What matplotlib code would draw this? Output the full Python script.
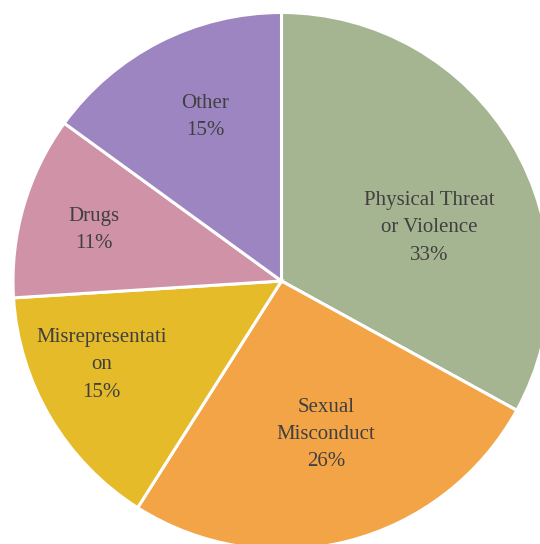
import matplotlib
matplotlib.use("Agg")
import matplotlib.pyplot as plt

categories = ["Physical Threat\nor Violence", "Sexual\nMisconduct", "Misrepresentati\non", "Drugs", "Other"]
shares = [33, 26, 15, 11, 15]
colors = ["#A6B591", "#F2A446", "#E5BB2A", "#CF92A6", "#9D85C1"]
# label anchor points (in radius units, relative to pie centre)
label_pos = [(0.55, 0.198), (0.165, -0.572), (-0.67, -0.312), (-0.70, 0.19), (-0.285, 0.61)]

plt.rcParams['font.family'] = ['Liberation Serif', 'DejaVu Serif']

fig = plt.figure(figsize=(5.4, 5.44), dpi=100)
ax = fig.add_axes([0, 0, 1, 1])
ax.pie(shares, colors=colors, startangle=90, counterclock=False, radius=1.0,
       wedgeprops=dict(edgecolor="white", linewidth=2.2))

for name, val, (x, y) in zip(categories, shares, label_pos):
    ax.text(x, y, f"{name}\n{val}%", ha="center", va="center",
            fontsize=15, color="#404040", linespacing=1.6)

s = 268.5
cx, cy = 281.5, 281.0
ax.set_xlim(-cx / s, (540 - cx) / s)
ax.set_ylim(-(544 - cy) / s, cy / s)
ax.set_aspect("equal")
ax.axis("off")

fig.savefig("out.png", dpi=100)
